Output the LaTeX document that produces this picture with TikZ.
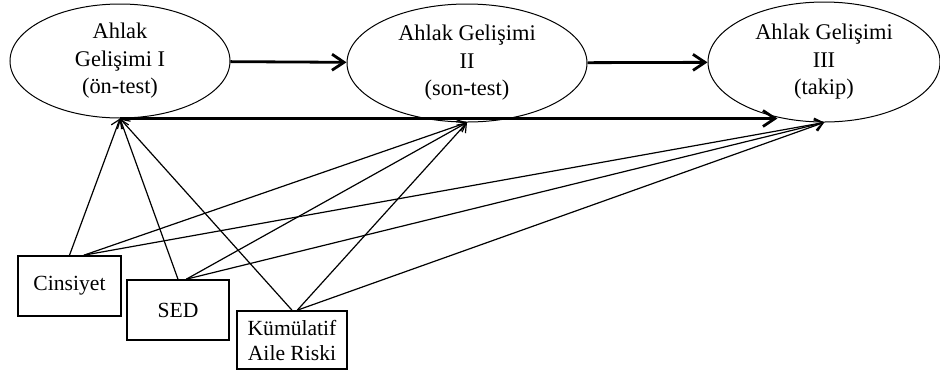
\documentclass[tikz,border=0pt]{standalone}
\usepackage{fontspec}
\setmainfont{Liberation Serif}
\usetikzlibrary{shapes.geometric}
\usetikzlibrary{arrows.meta}

\begin{document}
\begin{tikzpicture}[x=0.5pt,y=-0.5pt]

  \tikzset{LAT/.style={draw, ellipse, line width=0.5pt, inner sep=0pt, align=center,
      font=\fontsize{11.2}{13.8}\selectfont}}

  \tikzset{OBS/.style={draw, rectangle, line width=0.8pt, inner sep=0pt, align=center,
      font=\fontsize{10.8}{12.5}\selectfont}}

  \tikzset{PTH/.style={line width=1.4pt, -{Straight Barb[length=6pt,width=8pt]}}}
  \tikzset{COV/.style={line width=0.6pt, -{Straight Barb[length=4pt,width=6pt]}}}

  \useasboundingbox (0,0) rectangle (940,376);

  \node[LAT, minimum width=110pt, minimum height=57pt] (m0) at (120,61) {Ahlak\\Gelişimi I\\(ön-test)};
  \node[LAT, minimum width=120pt, minimum height=59pt] (m1) at (467,63) {Ahlak Gelişimi\\II\\(son-test)};
  \node[LAT, minimum width=116pt, minimum height=60pt] (m2) at (824,62) {Ahlak Gelişimi\\III\\(takip)};

  \node[OBS, minimum width=51.5pt, minimum height=30pt] (c0) at (69.5,286) {Cinsiyet};
  \node[OBS, minimum width=51pt,   minimum height=30pt] (c1) at (178,310) {SED};
  \node[OBS, minimum width=55pt,   minimum height=29pt] (c2) at (292,340) {Kümülatif\\Aile Riski};

  \draw[PTH] (m0) -- (m1);
  \draw[PTH] (m1) -- (m2);
  \draw[PTH] (m0.south) -- (m0.south -| m2.230);

  \draw[COV] (c0.north) -- (m0.south);
  \draw[COV] (c0.65)    -- (m1.south);
  \draw[COV] (c0.65)    -- (m2.south);
  \draw[COV] (c1.north) -- (m0.south);
  \draw[COV] (c1.75)    -- (m1.south);
  \draw[COV] (c1.75)    -- (m2.south);
  \draw[COV] (c2.north) -- (m0.south);
  \draw[COV] (c2.80)    -- (m1.south);
  \draw[COV] (c2.80)    -- (m2.south);
\end{tikzpicture}
\end{document}
